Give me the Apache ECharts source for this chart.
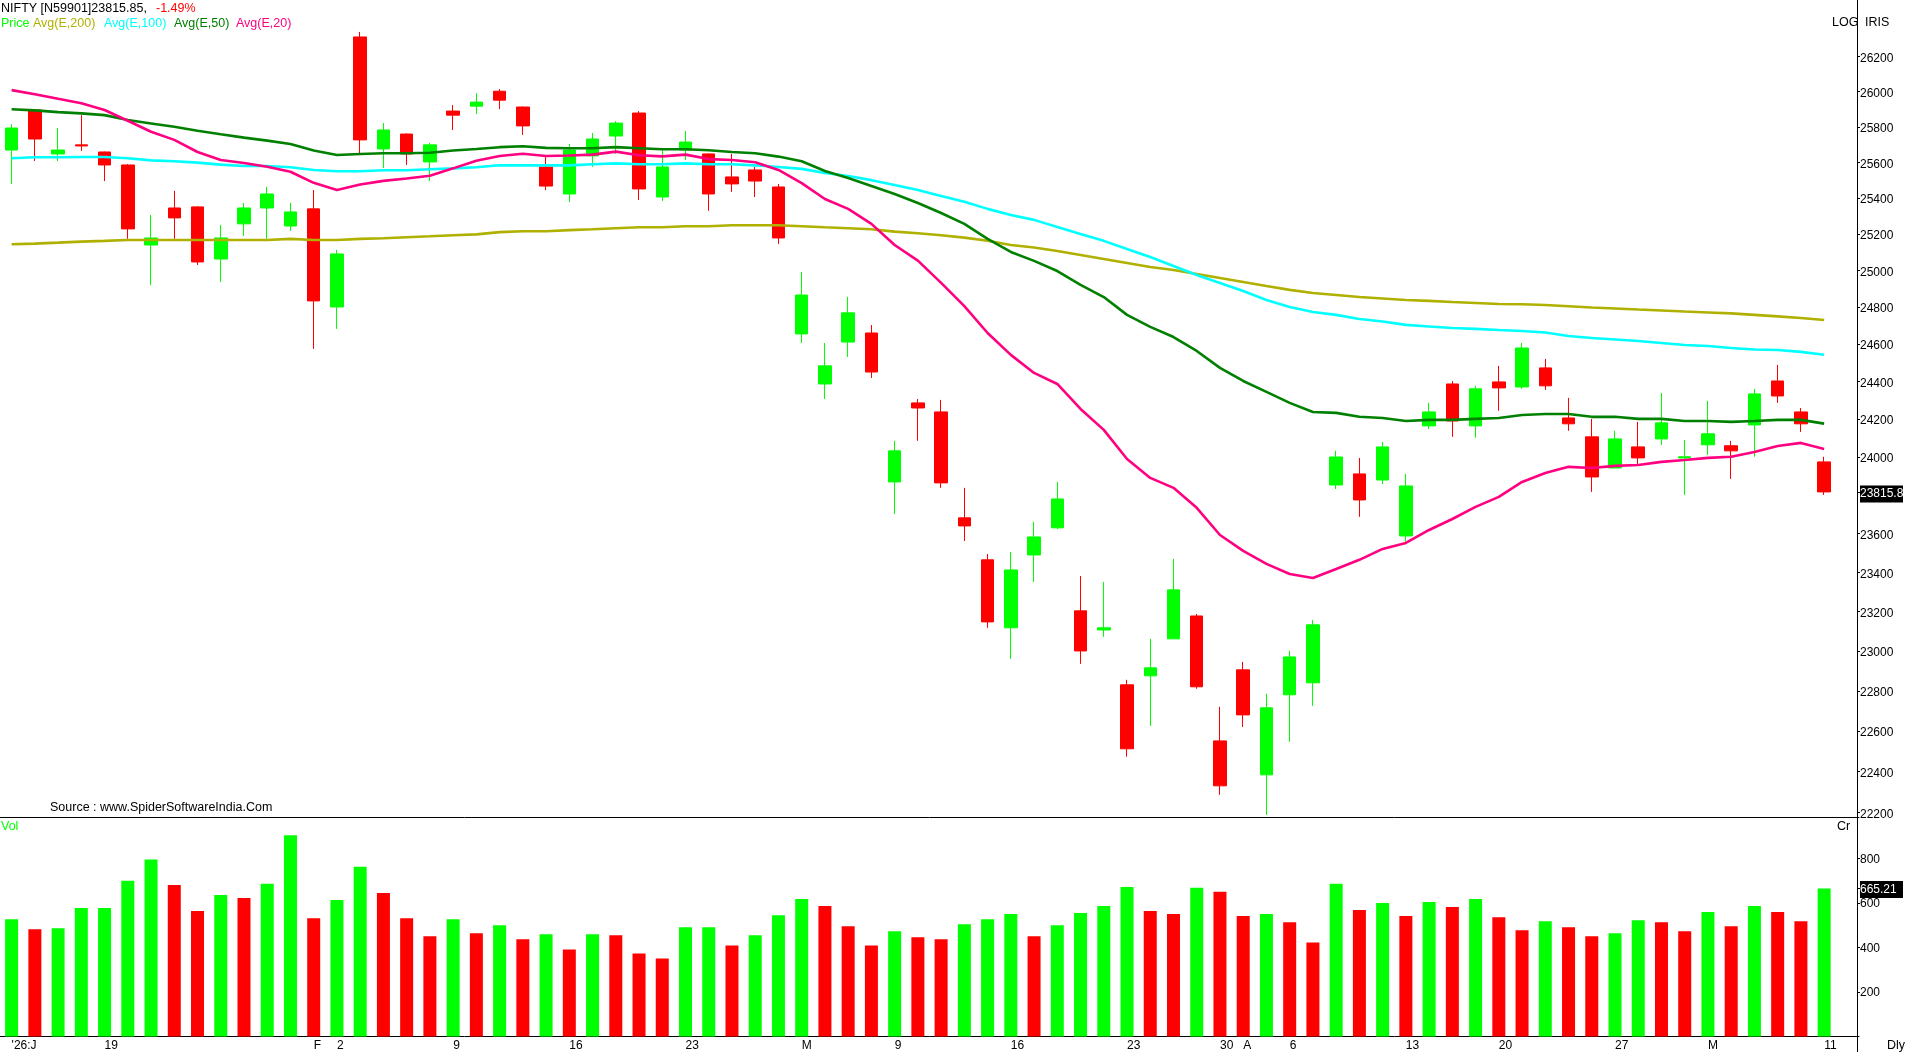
<!DOCTYPE html>
<html>
<head>
<meta charset="utf-8">
<title>NIFTY</title>
<script src="https://cdn.jsdelivr.net/npm/echarts@6/dist/echarts.min.js"></script>
<style>
html,body{margin:0;padding:0;background:#fff;}
#chart{width:1906px;height:1052px;}
</style>
</head>
<body>
<div id="chart"></div>
<script>
// daily candles
var dayLabels = ["'26:J",'','','','19','','','','','','','','','F','2','','','','','9','','','','','16','','','','','23','','','','','M','','','','9','','','','','16','','','','','23','','','','30','A','','6','','','','','13','','','','20','','','','','27','','','','M','','','','','11',''];
var opens = [25669,25895,25647,25698,25658,25585,25140,25345,25351,25063,25257,25345,25245,25340,24801,26313,25675,25759,25602,25889,25917,26002,25912,25574,25423,25636,25748,25878,25406,25669,25647,25518,25557,25462,24655,24386,24611,24660,23868,24285,24237,23681,23464,23117,23489,23629,23203,23106,22830,22875,23061,23177,22551,22905,22384,22780,22840,23852,23910,23878,23587,24163,24386,24163,24397,24370,24472,24205,24105,23941,24052,24094,23994,24063,24058,24168,24402,24237,23973];
var closes = [25793,25731,25669,25692,25585,25229,25179,25290,25047,25179,25345,25423,25323,24834,25091,25726,25782,25647,25698,25866,25940,25951,25805,25467,25669,25731,25821,25451,25574,25714,25423,25479,25495,25179,24866,24483,24769,24450,24031,24258,23863,23639,23147,23412,23582,23779,23000,23117,22512,22915,23310,22820,22330,22680,22715,22970,23132,23999,23774,24052,23847,24237,24189,24360,24365,24579,24376,24174,23894,24094,23994,24179,24000,24121,24031,24333,24322,24174,23815.85];
var lows = [25479,25607,25607,25664,25495,25174,24921,25174,25030,24937,25190,25174,25218,24574,24682,25647,25568,25585,25495,25782,25872,25900,25754,25445,25378,25574,25647,25389,25384,25613,25329,25434,25406,25146,24606,24306,24531,24418,23701,24084,23837,23561,23117,22960,23350,23623,22935,23071,22473,22625,23061,22810,22286,22620,22188,22546,22725,23831,23686,23857,23556,24147,24105,24100,24243,24360,24354,24137,23816,23941,23962,24063,23800,24010,23884,24000,24285,24131,23800];
var highs = [25815,25900,25793,25866,25660,25590,25306,25440,25355,25251,25373,25462,25373,25445,25113,26342,25821,25762,25709,25923,25991,26014,25915,25630,25703,25765,25832,25889,25669,25776,25650,25647,25574,25479,24992,24606,24856,24703,24084,24306,24301,23837,23494,23505,23660,23868,23381,23350,22855,23061,23469,23187,22720,22945,22785,23000,23157,24031,23994,24078,23910,24285,24402,24376,24483,24606,24520,24312,24200,24137,24184,24338,24089,24296,24084,24360,24488,24258,24000];

// moving averages
var ema20 = [26008,25985,25959,25934,25895,25834,25772,25726,25658,25613,25596,25575,25547,25485,25445,25476,25496,25509,25525,25566,25609,25635,25648,25635,25638,25643,25660,25640,25633,25643,25618,25613,25600,25557,25483,25395,25340,25257,25140,25054,24932,24806,24660,24542,24445,24386,24253,24142,23988,23889,23837,23733,23592,23510,23443,23391,23371,23417,23464,23520,23551,23618,23675,23738,23790,23868,23915,23947,23941,23952,23957,23973,23983,23994,24000,24025,24057,24073,24041];
var ema50 = [25899,25893,25883,25876,25866,25838,25819,25800,25778,25758,25739,25722,25703,25666,25641,25647,25651,25651,25654,25666,25675,25685,25690,25681,25679,25679,25685,25679,25673,25673,25668,25658,25651,25632,25606,25551,25512,25467,25423,25373,25317,25257,25174,25102,25053,24997,24921,24855,24758,24693,24638,24563,24472,24402,24344,24285,24237,24232,24211,24205,24189,24195,24195,24200,24205,24221,24226,24226,24211,24211,24200,24200,24189,24189,24184,24189,24195,24195,24175];
var ema100 = [25623,25628,25628,25630,25630,25623,25611,25606,25598,25587,25579,25579,25572,25557,25550,25550,25555,25555,25561,25566,25572,25583,25583,25583,25583,25589,25594,25589,25589,25594,25589,25589,25583,25574,25563,25540,25523,25500,25473,25445,25412,25379,25340,25306,25279,25240,25201,25163,25118,25074,25025,24975,24932,24888,24839,24801,24774,24758,24736,24722,24704,24695,24687,24682,24676,24671,24663,24644,24633,24625,24617,24606,24595,24590,24579,24571,24568,24558,24543];
var ema200 = [25144,25148,25153,25159,25163,25168,25168,25168,25168,25168,25168,25168,25174,25168,25168,25174,25177,25183,25188,25194,25199,25211,25216,25216,25222,25227,25233,25238,25238,25244,25244,25249,25249,25249,25244,25238,25233,25227,25214,25205,25194,25181,25164,25140,25126,25107,25085,25063,25041,25019,25003,24981,24959,24937,24915,24894,24877,24866,24855,24847,24839,24834,24828,24823,24817,24816,24812,24805,24798,24793,24787,24782,24776,24771,24766,24758,24750,24741,24730];

// volume panel, 1 = green bar, 0 = red bar
var volumes = [527,482,487,577,577,700,795,681,564,636,623,686,904,532,613,763,645,532,450,527,464,500,437,459,391,459,455,373,351,491,491,409,455,545,618,586,496,409,473,446,437,505,527,550,450,500,555,586,672,564,550,668,650,541,550,514,423,686,568,600,541,604,582,618,536,477,518,491,450,464,523,514,473,559,496,586,559,518,665.21];
var volumeUp = [1,0,1,1,1,1,1,0,0,1,0,1,1,0,1,1,0,0,0,1,0,1,0,1,0,1,0,0,0,1,1,0,1,1,1,0,0,0,1,0,0,1,1,1,0,1,1,1,1,0,0,1,0,0,1,0,0,1,0,1,0,1,0,1,0,0,1,0,0,1,1,0,0,1,0,1,0,0,1];

var priceTicks = [22200,22400,22600,22800,23000,23200,23400,23600,23815.85,24000,24200,24400,24600,24800,25000,25200,25400,25600,25800,26000,26200];
var volumeTicks = [200,400,600,665.21,800];
var lastPrice = 23815.85;
var lastVolume = 665.21;

var GREEN = '#00ff00', RED = '#ff0000';
var FONT = 'Liberation Sans';

var candles = opens.map(function (o, i) {
  return [o, closes[i], lows[i], highs[i]];
});
var volumeBars = volumes.map(function (v, i) {
  return { value: v, itemStyle: { color: volumeUp[i] ? GREEN : RED } };
});

function avgLine(name, data, color) {
  return {
    name: name, type: 'line', data: data, xAxisIndex: 0, yAxisIndex: 0,
    symbol: 'none', z: 5, silent: true,
    lineStyle: { color: color, width: 2.6 }
  };
}

function txt(x, y, text, fill, align) {
  return {
    type: 'text', x: x, y: y, silent: true,
    style: { text: text, fill: fill, font: '12.5px "' + FONT + '"', textAlign: align || 'left', textVerticalAlign: 'middle' }
  };
}

function tagLabel(last, nudge) {
  return {
    interval: 0, margin: 3, color: '#000', fontFamily: FONT, fontSize: 12, padding: [nudge, 0, 0, 0],
    formatter: function (v) {
      return Math.abs(v - last) < 0.01 ? '{tag|' + last + '}' : '' + Math.round(v);
    },
    rich: { tag: { color: '#fff', backgroundColor: '#000', width: 43, height: 17, lineHeight: 17, fontFamily: FONT, fontSize: 12, align: 'left' } }
  };
}

var chart = echarts.init(document.getElementById('chart'));
chart.setOption({
  animation: false,
  backgroundColor: '#ffffff',
  grid: [
    { left: 0, top: 0, width: 1859, height: 817, outerBoundsMode: 'none' },
    { left: 0, top: 819, width: 1859, height: 217.5, outerBoundsMode: 'none' }
  ],
  xAxis: [
    { type: 'category', gridIndex: 0, data: dayLabels, axisLabel: { show: false }, axisTick: { show: false },
      axisLine: { lineStyle: { color: '#000', width: 1 } } },
    { type: 'category', gridIndex: 1, data: dayLabels, axisTick: { show: false },
      axisLine: { lineStyle: { color: '#000', width: 1 } },
      axisLabel: { interval: 0, align: 'left', margin: 3, color: '#000', fontFamily: FONT, fontSize: 12 } }
  ],
  yAxis: [
    { type: 'log', logBase: 10, gridIndex: 0, position: 'right', offset: -2, min: 22178, max: 26527,
      splitLine: { show: false }, axisLine: { show: true, lineStyle: { color: '#000', width: 1 } },
      axisTick: { show: true, length: 3, customValues: priceTicks, lineStyle: { color: '#000' } },
      axisLabel: Object.assign(tagLabel(lastPrice, 4), { customValues: priceTicks }) },
    { type: 'value', gridIndex: 1, position: 'right', offset: -2, min: 0, max: 977.5,
      splitLine: { show: false }, axisLine: { show: true, lineStyle: { color: '#000', width: 1 } },
      axisTick: { show: true, length: 3, customValues: volumeTicks, lineStyle: { color: '#000' } },
      axisLabel: Object.assign(tagLabel(lastVolume, 2), { customValues: volumeTicks }) }
  ],
  series: [
    { name: 'Price', type: 'candlestick', data: candles, xAxisIndex: 0, yAxisIndex: 0, barWidth: 13, z: 2,
      itemStyle: { color: GREEN, color0: RED, borderColor: GREEN, borderColor0: RED, borderWidth: 1 } },
    avgLine('Avg(E,200)', ema200, '#b0b000'),
    avgLine('Avg(E,100)', ema100, '#00ffff'),
    avgLine('Avg(E,50)', ema50, '#008000'),
    avgLine('Avg(E,20)', ema20, '#ff0080'),
    { name: 'Vol', type: 'bar', data: volumeBars, xAxisIndex: 1, yAxisIndex: 1, barWidth: 13 }
  ],
  graphic: [
    txt(1, 9, 'NIFTY [N59901]23815.85,', '#000'),
    txt(156, 9, '-1.49%', '#ff0000'),
    txt(1, 24, 'Price', GREEN),
    txt(33, 24, 'Avg(E,200)', '#b0b000'),
    txt(104, 24, 'Avg(E,100)', '#00ffff'),
    txt(174, 24, 'Avg(E,50)', '#008000'),
    txt(236, 24, 'Avg(E,20)', '#ff0080'),
    txt(1832, 23, 'LOG', '#000'),
    txt(1865, 23, 'IRIS', '#000'),
    txt(50, 808, 'Source : www.SpiderSoftwareIndia.Com', '#000'),
    txt(1, 827, 'Vol', GREEN),
    txt(1837, 827, 'Cr', '#000'),
    txt(1887, 1046, 'Dly', '#000'),
    // divider that runs the full height, the axis lines only cover the two grids
    { type: 'line', silent: true, shape: { x1: 1857.5, y1: 0, x2: 1857.5, y2: 1052 }, style: { stroke: '#000', lineWidth: 1 } }
  ]
});
</script>
</body>
</html>
